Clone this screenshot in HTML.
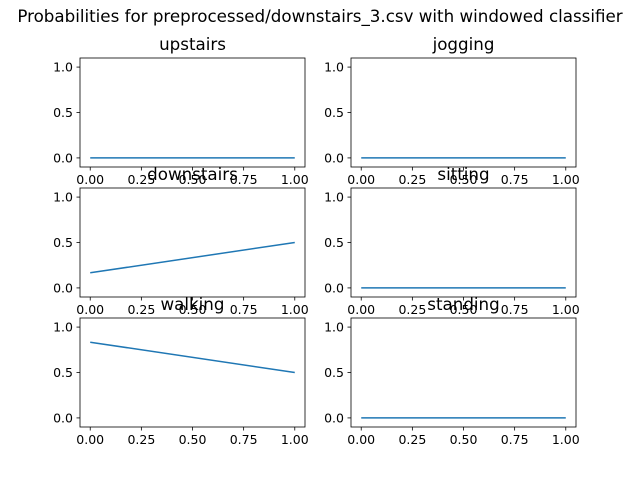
<!DOCTYPE html>
<html><head><meta charset="utf-8"><style>
body{margin:0;background:#fff}
svg{font-family:"DejaVu Sans","Liberation Sans",sans-serif}
</style></head><body>
<svg id="fig" width="640" height="480" xmlns="http://www.w3.org/2000/svg">
<rect width="640" height="480" fill="#fff"/>
<text x="320" y="22" font-size="16.7" text-anchor="middle">Probabilities for preprocessed/downstairs_3.csv with windowed classifier</text>
</svg>
<script>
const titles=["upstairs","jogging","downstairs","sitting","walking","standing"];
const xValues=[0,1];
const series=[[0,0],[0,0],[0.1667,0.5],[0,0],[0.8333,0.5],[0,0]];
const xTicks=["0.00","0.25","0.50","0.75","1.00"];
const yTicks=["0.0","0.5","1.0"];
const svg=document.getElementById('fig');
const NS="http://www.w3.org/2000/svg";
function mk(t,a,p){const e=document.createElementNS(NS,t);for(const k in a)e.setAttribute(k,a[k]);(p||svg).appendChild(e);return e;}
const lefts=[80,351],tops=[58,188,318],W=225,H=109;
titles.forEach((name,i)=>{
  const L=lefts[i%2],T=tops[Math.floor(i/2)];
  const g=mk('g',{});
  
  
  const sx=v=>L+(v+0.05)/1.1*W, sy=v=>T+H-(v+0.1)/1.2*H;
  xTicks.forEach(t=>{const v=parseFloat(t),x=sx(v);
    mk('line',{x1:x,x2:x,y1:T+H,y2:T+H+3.5,stroke:'#000','stroke-width':0.8},g);
    const tx=mk('text',{x:x,y:T+H+17,'font-size':13.9*0.9,'text-anchor':'middle'},g);tx.textContent=t;
    
    });
  yTicks.forEach(t=>{const v=parseFloat(t),y=sy(v);
    mk('line',{x1:L-3.5,x2:L,y1:y,y2:y,stroke:'#000','stroke-width':0.8},g);
    const tx=mk('text',{x:L-7,y:y+4.5,'font-size':13.9*0.9,'text-anchor':'end'},g);tx.textContent=t;
    
    });
  const pts=xValues.map((x,j)=>sx(x)+','+sy(series[i][j])).join(' ');
  const pl=mk('polyline',{points:pts,fill:'none',stroke:'#1f77b4','stroke-width':1.5},g);
  
  
  mk('rect',{x:L,y:T,width:W,height:H,fill:'none',stroke:'#000','stroke-width':0.8},g);
  const tt=mk('text',{x:L+W/2,y:T-8,'font-size':16.7,'text-anchor':'middle'},g);tt.textContent=name;
  
  
});
</script>
</body></html>
